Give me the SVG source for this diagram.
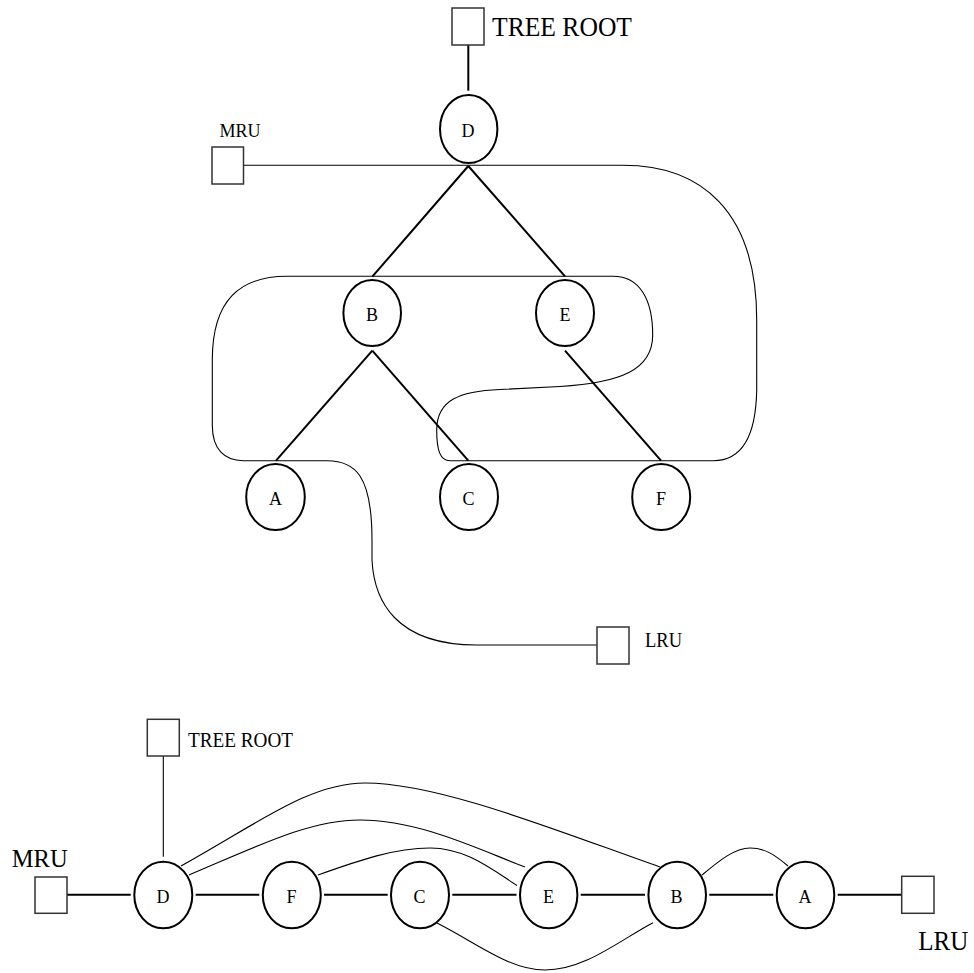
<svg xmlns="http://www.w3.org/2000/svg" width="974" height="973" viewBox="0 0 974 973">
<style>
  .bg { fill: #ffffff; }
  .node ellipse { fill: none; stroke: #000; stroke-width: 2; }
  .box rect { fill: none; stroke: #333; stroke-width: 1.5; }
  .lbl { font-family: "Liberation Serif", "Times New Roman", serif; fill: #000; }
  .nl { font-size: 18px; text-anchor: middle; }
  .edge { fill: none; stroke: #000; stroke-width: 2; }
  .thin { fill: none; stroke: #000; stroke-width: 1.1; }
</style>
<rect class="bg" x="0" y="0" width="974" height="973"/>

<g id="connectors">
  <!-- top tree -->
  <line class="edge" x1="468.3" y1="45" x2="468.3" y2="90.7"/>
  <line class="edge" x1="468.3" y1="166" x2="372.3" y2="276.7"/>
  <line class="edge" x1="468.3" y1="166" x2="565" y2="276.3"/>
  <line class="edge" x1="372.3" y1="350.7" x2="276" y2="460.7"/>
  <line class="edge" x1="372.3" y1="350.7" x2="468.3" y2="460.7"/>
  <line class="edge" x1="565" y1="350.7" x2="661" y2="460.7"/>
  <!-- top LRU list -->
  <path class="thin" d="M243.5,165.3 L623,165.3 C700,165.3 756.7,210 756.7,320 L756.7,390 C756,430 745,460.7 713.3,460.7 L450,460.7 C440,460.7 436.7,450 436.7,430 C436.7,400 460,391 500,389.5 L560,386.5 C620,383 652.7,370 652.7,335 C652.7,300 640,276.3 613,276.3 L287,276.3 C240,276.3 212.3,300 212.3,360 L212.3,425 C212.3,450 225,460.7 243,460.7 L327,460.7 C355,460.7 372,475 372,540 L372,560 C374,600 395,645 476.7,645 L597,645"/>
  <!-- bottom list -->
  <line class="thin" x1="163.3" y1="756" x2="163.3" y2="856.7"/>
  <line class="edge" x1="67" y1="894.7" x2="130.7" y2="894.7"/>
  <line class="edge" x1="195.7" y1="894.7" x2="259.3" y2="894.7"/>
  <line class="edge" x1="324" y1="894.7" x2="387.7" y2="894.7"/>
  <line class="edge" x1="452.3" y1="894.7" x2="516.5" y2="894.7"/>
  <line class="edge" x1="580.7" y1="894.7" x2="645" y2="894.7"/>
  <line class="edge" x1="709.3" y1="894.7" x2="773.3" y2="894.7"/>
  <line class="edge" x1="837.7" y1="894.7" x2="901.7" y2="894.7"/>
  <path class="thin" d="M181,866 C260,822 310,783 365,783 C440,783 560,832 660,867"/>
  <path class="thin" d="M189,875 C260,845 310,820 360,820 C420,820 480,850 525,867"/>
  <path class="thin" d="M318,875 C360,860 395,848 430,848 C465,848 490,868 517,885.5"/>
  <path class="thin" d="M437,923 C480,945 510,970 545,970 C585,970 620,940 653,922.7"/>
  <path class="thin" d="M702,875 C720,860 735,848 750,848 C765,848 775,855 788,866"/>
</g>

<!-- top diagram nodes -->
<g id="top-tree-root" class="box">
  <rect x="452" y="8" width="32" height="37"/>
  <text class="lbl" x="492" y="36" font-size="27" textLength="140" lengthAdjust="spacingAndGlyphs">TREE ROOT</text>
</g>
<g id="top-mru" class="box">
  <rect x="212" y="147" width="31.5" height="37"/>
  <text class="lbl" x="219.5" y="137" font-size="18">MRU</text>
</g>
<g id="top-lru" class="box">
  <rect x="597" y="627" width="32" height="37"/>
  <text class="lbl" x="645" y="646.5" font-size="20" textLength="37" lengthAdjust="spacingAndGlyphs">LRU</text>
</g>
<g id="top-D" class="node"><ellipse cx="468.7" cy="129" rx="28.7" ry="34"/><text class="lbl nl" x="468" y="137.3">D</text></g>
<g id="top-B" class="node"><ellipse cx="372.2" cy="313" rx="28.8" ry="33"/><text class="lbl nl" x="372" y="321">B</text></g>
<g id="top-E" class="node"><ellipse cx="565" cy="313" rx="29" ry="33"/><text class="lbl nl" x="565" y="321">E</text></g>
<g id="top-A" class="node"><ellipse cx="275.5" cy="497" rx="29.3" ry="33"/><text class="lbl nl" x="275.5" y="505">A</text></g>
<g id="top-C" class="node"><ellipse cx="469" cy="497" rx="29" ry="33"/><text class="lbl nl" x="468.5" y="505">C</text></g>
<g id="top-F" class="node"><ellipse cx="661.2" cy="497" rx="29" ry="33"/><text class="lbl nl" x="661" y="505">F</text></g>

<!-- bottom diagram nodes -->
<g id="bot-tree-root" class="box">
  <rect x="147.3" y="719.3" width="32" height="36.7"/>
  <text class="lbl" x="188" y="747.3" font-size="21" textLength="105" lengthAdjust="spacingAndGlyphs">TREE ROOT</text>
</g>
<g id="bot-mru" class="box">
  <rect x="35" y="877" width="32" height="36.3"/>
  <text class="lbl" x="11.7" y="866.7" font-size="26" textLength="56" lengthAdjust="spacingAndGlyphs">MRU</text>
</g>
<g id="bot-lru" class="box">
  <rect x="901.7" y="876.3" width="32.3" height="37"/>
  <text class="lbl" x="918.3" y="950" font-size="27" textLength="50" lengthAdjust="spacingAndGlyphs">LRU</text>
</g>
<g id="bot-D" class="node"><ellipse cx="163.3" cy="895" rx="29" ry="33.3"/><text class="lbl nl" x="163" y="903.3">D</text></g>
<g id="bot-F" class="node"><ellipse cx="291.8" cy="895" rx="29" ry="33.3"/><text class="lbl nl" x="291.5" y="903.3">F</text></g>
<g id="bot-C" class="node"><ellipse cx="420" cy="895" rx="29" ry="33.3"/><text class="lbl nl" x="419.5" y="903.3">C</text></g>
<g id="bot-E" class="node"><ellipse cx="548.7" cy="895" rx="28.7" ry="33.3"/><text class="lbl nl" x="548.5" y="903.3">E</text></g>
<g id="bot-B" class="node"><ellipse cx="677.2" cy="895" rx="28.8" ry="33.3"/><text class="lbl nl" x="676.5" y="903.3">B</text></g>
<g id="bot-A" class="node"><ellipse cx="805.5" cy="895" rx="28.8" ry="33.3"/><text class="lbl nl" x="805" y="903.3">A</text></g>
</svg>
